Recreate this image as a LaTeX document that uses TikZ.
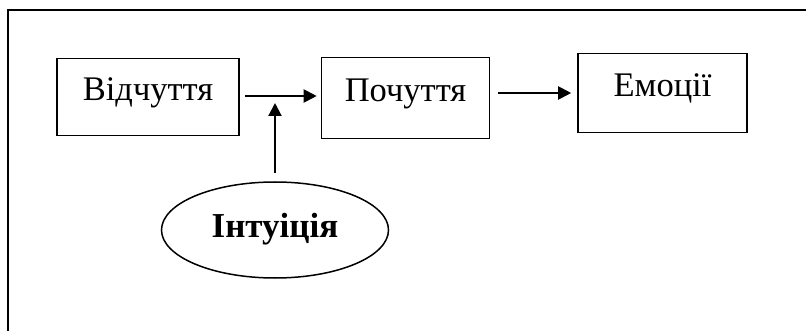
\documentclass[tikz,border=0pt]{standalone}
\usepackage{fontspec}
\setmainfont{Liberation Serif}
\usepackage{tikz}
\usetikzlibrary{positioning,shapes,arrows.meta}
\tikzstyle{StageBox} = [rectangle, draw, line width=1.6pt, inner sep=0pt,
    font=\fontsize{34.5}{38}\selectfont, text height=23pt, text depth=15pt]
\tikzstyle{SourceOval} = [ellipse, draw, line width=1.5pt, inner sep=0pt,
    minimum width=227pt, minimum height=96pt,
    font=\fontsize{35}{38}\selectfont\bfseries, text height=24pt, text depth=10pt]
\tikzstyle{arrow} = [line width=2pt,-{Triangle[length=13pt,width=13pt]}]
\tikzstyle{frame} = [line width=2.3pt]

\begin{document}
\begin{tikzpicture}[x=1pt, y=-1pt]
        \useasboundingbox (0,0) rectangle (806,331);
        \draw [frame] (810,10) -- (8,10) -- (8,335); %outer frame
        \node [StageBox, minimum width=182pt, minimum height=77pt] (Vidchuttya) at (148,97) {Відчуття};
        \node [StageBox, minimum width=168pt, minimum height=81pt] (Pochuttya) at (405.5,98) {Почуття};
        \node [StageBox, minimum width=169pt, minimum height=79pt] (Emotsii) at (662.5,93) {Емоції};
        \node [SourceOval] (Intuitsiya) at (275,230) {Інтуіція};
        \coordinate (Junction) at (Intuitsiya.north |- 0,96); %where intuition meets
        \draw [arrow, shorten <=5pt, shorten >=4pt] (Vidchuttya.east |- Junction) -- (Pochuttya.west |- Junction);
        \draw [arrow, shorten <=8pt, shorten >=6pt] (Pochuttya.east |- Emotsii.west) -- (Emotsii.west);
        \draw [arrow, shorten <=8pt, shorten >=7pt] (Intuitsiya.north) -- (Junction);
    \end{tikzpicture}
\end{document}
